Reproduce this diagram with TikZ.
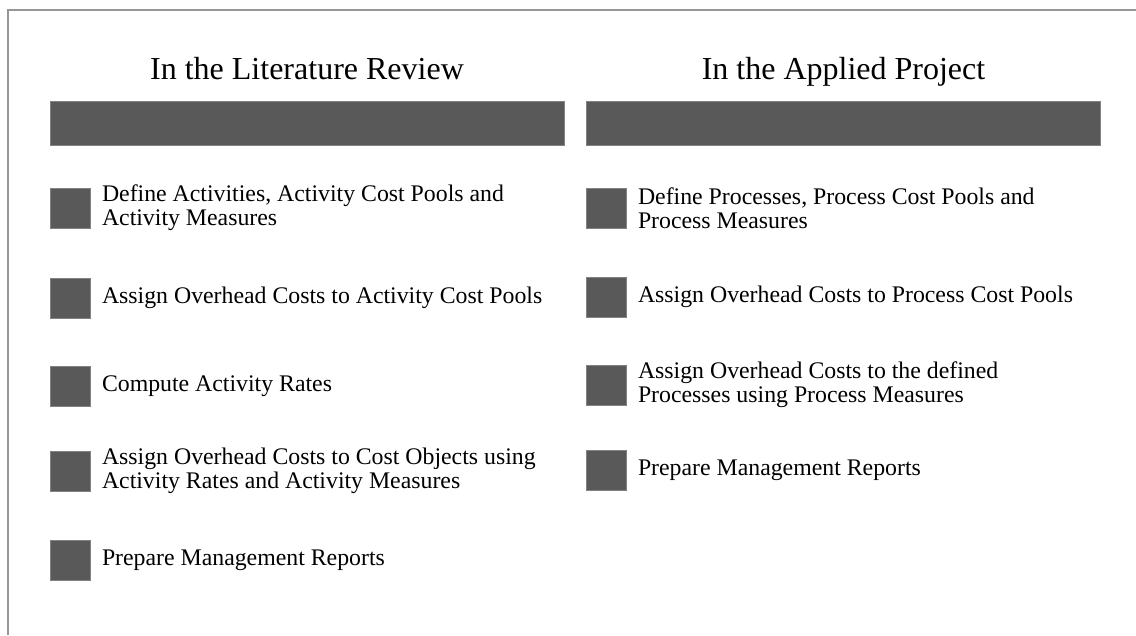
\documentclass[tikz,border=0pt]{standalone}
\usepackage{fontspec}
\setmainfont{Liberation Serif}
\usetikzlibrary{positioning}
\definecolor{BarGrey}{RGB}{89, 89, 89}
\definecolor{FrameGrey}{RGB}{150, 150, 150}

\begin{document}
\begin{tikzpicture}[x=1pt, y=-1pt,
  every node/.style={font=\fontsize{23.8}{24}\selectfont, align=left, inner sep=0pt},
  headtitle/.style={font=\fontsize{32}{36}\selectfont, anchor=base},
  headbar/.style={fill=BarGrey, draw=BarGrey!75, line width=0.6pt,
                  minimum width=514pt, minimum height=44pt},
  bulletbox/.style={fill=BarGrey, draw=BarGrey!75, line width=0.6pt,
                    minimum width=40pt, minimum height=40pt}]
\useasboundingbox (0,0) rectangle (1136,635);
% open frame: top and left edges only
\draw[FrameGrey, line width=1.5pt] (8,635) -- (8,10) -- (1136,10);

% column heads
\node[headtitle] (ltitle) at (307,79) {In the Literature Review};
\node[headtitle] (rtitle) at (843.5,79) {In the Applied Project};
\node[headbar] (lbar) at (307,123) {};
\node[headbar] (rbar) at (843.5,123) {};

% left column: ABC steps
\node[bulletbox] (l1) at (70.5,208) {};
\node[right=11pt of l1] (lt1) {Define Activities, Activity Cost Pools and\\Activity Measures};
\node[bulletbox] (l2) at (70.5,298) {};
\node[right=11pt of l2] (lt2) {Assign Overhead Costs to Activity Cost Pools};
\node[bulletbox] (l3) at (70.5,386) {};
\node[right=11pt of l3] (lt3) {Compute Activity Rates};
\node[bulletbox] (l4) at (70.5,471) {};
\node[right=11pt of l4] (lt4) {Assign Overhead Costs to Cost Objects using\\Activity Rates and Activity Measures};
\node[bulletbox] (l5) at (70.5,560) {};
\node[right=11pt of l5] (lt5) {Prepare Management Reports};

% right column: steps as applied
\node[bulletbox] (r1) at (606.5,208) {};
\node[right=11pt of r1] (rt1) {Define Processes, Process Cost Pools and\\Process Measures};
\node[bulletbox] (r2) at (606.5,297) {};
\node[right=11pt of r2] (rt2) {Assign Overhead Costs to Process Cost Pools};
\node[bulletbox] (r3) at (606.5,385) {};
\node[right=11pt of r3] (rt3) {Assign Overhead Costs to the defined\\Processes using Process Measures};
\node[bulletbox] (r4) at (606.5,470) {};
\node[right=11pt of r4] (rt4) {Prepare Management Reports};
\end{tikzpicture}
\end{document}
